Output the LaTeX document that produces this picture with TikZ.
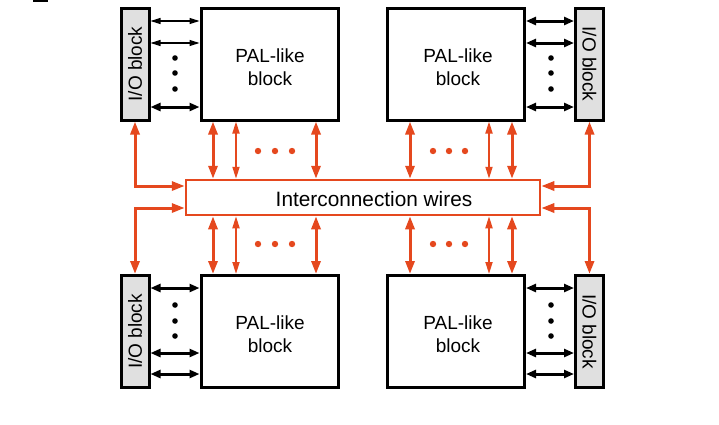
\documentclass[tikz,border=0pt]{standalone}
\usepackage{fontspec}
\setmainfont{Liberation Sans}
\usetikzlibrary{arrows.meta}
\definecolor{org}{RGB}{229,72,30}
\definecolor{iogray}{RGB}{224,224,224}
\tikzset{
  box/.style={draw, line width=3pt, inner sep=0pt},
  pal/.style={box, fill=white, minimum width=137pt, minimum height=112pt},
  paltext/.style={align=center, inner sep=0pt, font=\fontsize{19}{23}\selectfont},
  iobox/.style={box, fill=iogray, minimum width=28pt, minimum height=112pt},
  iotext/.style={font=\fontsize{19}{23}\selectfont, inner sep=0pt},
  icbox/.style={draw=org, line width=2.5pt, fill=white, inner sep=0pt, minimum width=354pt, minimum height=35pt},
  oarr/.style={draw=org, line width=3pt, {Triangle[length=13pt,width=9pt]}-{Triangle[length=13pt,width=9pt]}},
  oarrthin/.style={draw=org, line width=1.8pt, {Triangle[length=12pt,width=7pt]}-{Triangle[length=12pt,width=7pt]}},
  barr/.style={draw=black, line width=3pt, {Triangle[length=10pt,width=8pt]}-{Triangle[length=10pt,width=8pt]}},
  barrthin/.style={draw=black, line width=1.2pt, {Triangle[length=10pt,width=6pt]}-{Triangle[length=10pt,width=6pt]}},
  bdot/.style={fill=black},
  odot/.style={fill=org}
}
\begin{document}
\begin{tikzpicture}[x=1pt,y=-1pt]
\useasboundingbox (0,0) rectangle (719,424);
\fill (33,0) rectangle (48,2);
% blocks
\node[iobox] (iotl) at (135,64) {};
\node[pal] (paltl) at (269.5,64) {};
\node[pal] (paltr) at (456,64) {};
\node[iobox] (iotr) at (589.5,64) {};
\node[iobox] (iobl) at (135,331.5) {};
\node[pal] (palbl) at (269.5,331.5) {};
\node[pal] (palbr) at (456,331.5) {};
\node[iobox] (iobr) at (589.5,331.5) {};
\node[paltext] (tpaltl) at (270,67) {PAL-like\\block};
\node[paltext] (tpaltr) at (458,67) {PAL-like\\block};
\node[paltext] (tpalbl) at (270,334) {PAL-like\\block};
\node[paltext] (tpalbr) at (458,334) {PAL-like\\block};
\node[iotext, rotate=90] (tiotl) at (iotl) {I/O block};
\node[iotext, rotate=-90] (tiotr) at (iotr) {I/O block};
\node[iotext, rotate=90] (tiobl) at (iobl) {I/O block};
\node[iotext, rotate=-90] (tiobr) at (iobr) {I/O block};
\node[icbox] (ic) at (363,197.5) {};
\node[font=\fontsize{20.8}{24}\selectfont, inner sep=0pt] (ictext) at (374,199.5) {Interconnection wires};
% black IO arrows
\draw[barrthin] (iotl.east |- 0,21) -- (paltl.west |- 0,21);
\draw[barrthin] (iotl.east |- 0,43) -- (paltl.west |- 0,43);
\draw[barr] (iotl.east |- 0,107) -- (paltl.west |- 0,107);
\draw[barr] (paltr.east |- 0,21) -- (iotr.west |- 0,21);
\draw[barr] (paltr.east |- 0,43) -- (iotr.west |- 0,43);
\draw[barr] (paltr.east |- 0,107) -- (iotr.west |- 0,107);
\draw[barr] (iobl.east |- 0,288) -- (palbl.west |- 0,288);
\draw[barr] (iobl.east |- 0,353) -- (palbl.west |- 0,353);
\draw[barr] (iobl.east |- 0,374) -- (palbl.west |- 0,374);
\draw[barr] (palbr.east |- 0,288) -- (iobr.west |- 0,288);
\draw[barr] (palbr.east |- 0,353) -- (iobr.west |- 0,353);
\draw[barr] (palbr.east |- 0,374) -- (iobr.west |- 0,374);
% black dots
\foreach \y in {58,73,89} {\fill[bdot] (175,\y) circle (2.8); \fill[bdot] (551,\y) circle (2.8);}
\foreach \y in {305,321,336} {\fill[bdot] (175,\y) circle (2.8); \fill[bdot] (551,\y) circle (2.8);}
% orange vertical arrows
\draw[oarr] (paltl.south -| 213,0) -- (ic.north -| 213,0);
\draw[oarrthin] (paltl.south -| 236,0) -- (ic.north -| 236,0);
\draw[oarr] (paltl.south -| 316,0) -- (ic.north -| 316,0);
\draw[oarr] (paltr.south -| 410,0) -- (ic.north -| 410,0);
\draw[oarrthin] (paltr.south -| 489,0) -- (ic.north -| 489,0);
\draw[oarr] (paltr.south -| 512,0) -- (ic.north -| 512,0);
\draw[oarr] (palbl.north -| 213,0) -- (ic.south -| 213,0);
\draw[oarrthin] (palbl.north -| 236,0) -- (ic.south -| 236,0);
\draw[oarr] (palbl.north -| 316,0) -- (ic.south -| 316,0);
\draw[oarr] (palbr.north -| 410,0) -- (ic.south -| 410,0);
\draw[oarrthin] (palbr.north -| 489,0) -- (ic.south -| 489,0);
\draw[oarr] (palbr.north -| 512,0) -- (ic.south -| 512,0);
% orange dots
\foreach \x in {258,275,292,433,449,465} {\fill[odot] (\x,151) circle (3.2); \fill[odot] (\x,244) circle (3.2);}
% IO to interconnect
\draw[oarr] (iotl.south) |- (ic.west |- 0,186);
\draw[oarr] (iobl.north) |- (ic.west |- 0,208);
\draw[oarr] (iotr.south) |- (ic.east |- 0,186);
\draw[oarr] (iobr.north) |- (ic.east |- 0,208);
\end{tikzpicture}
\end{document}
